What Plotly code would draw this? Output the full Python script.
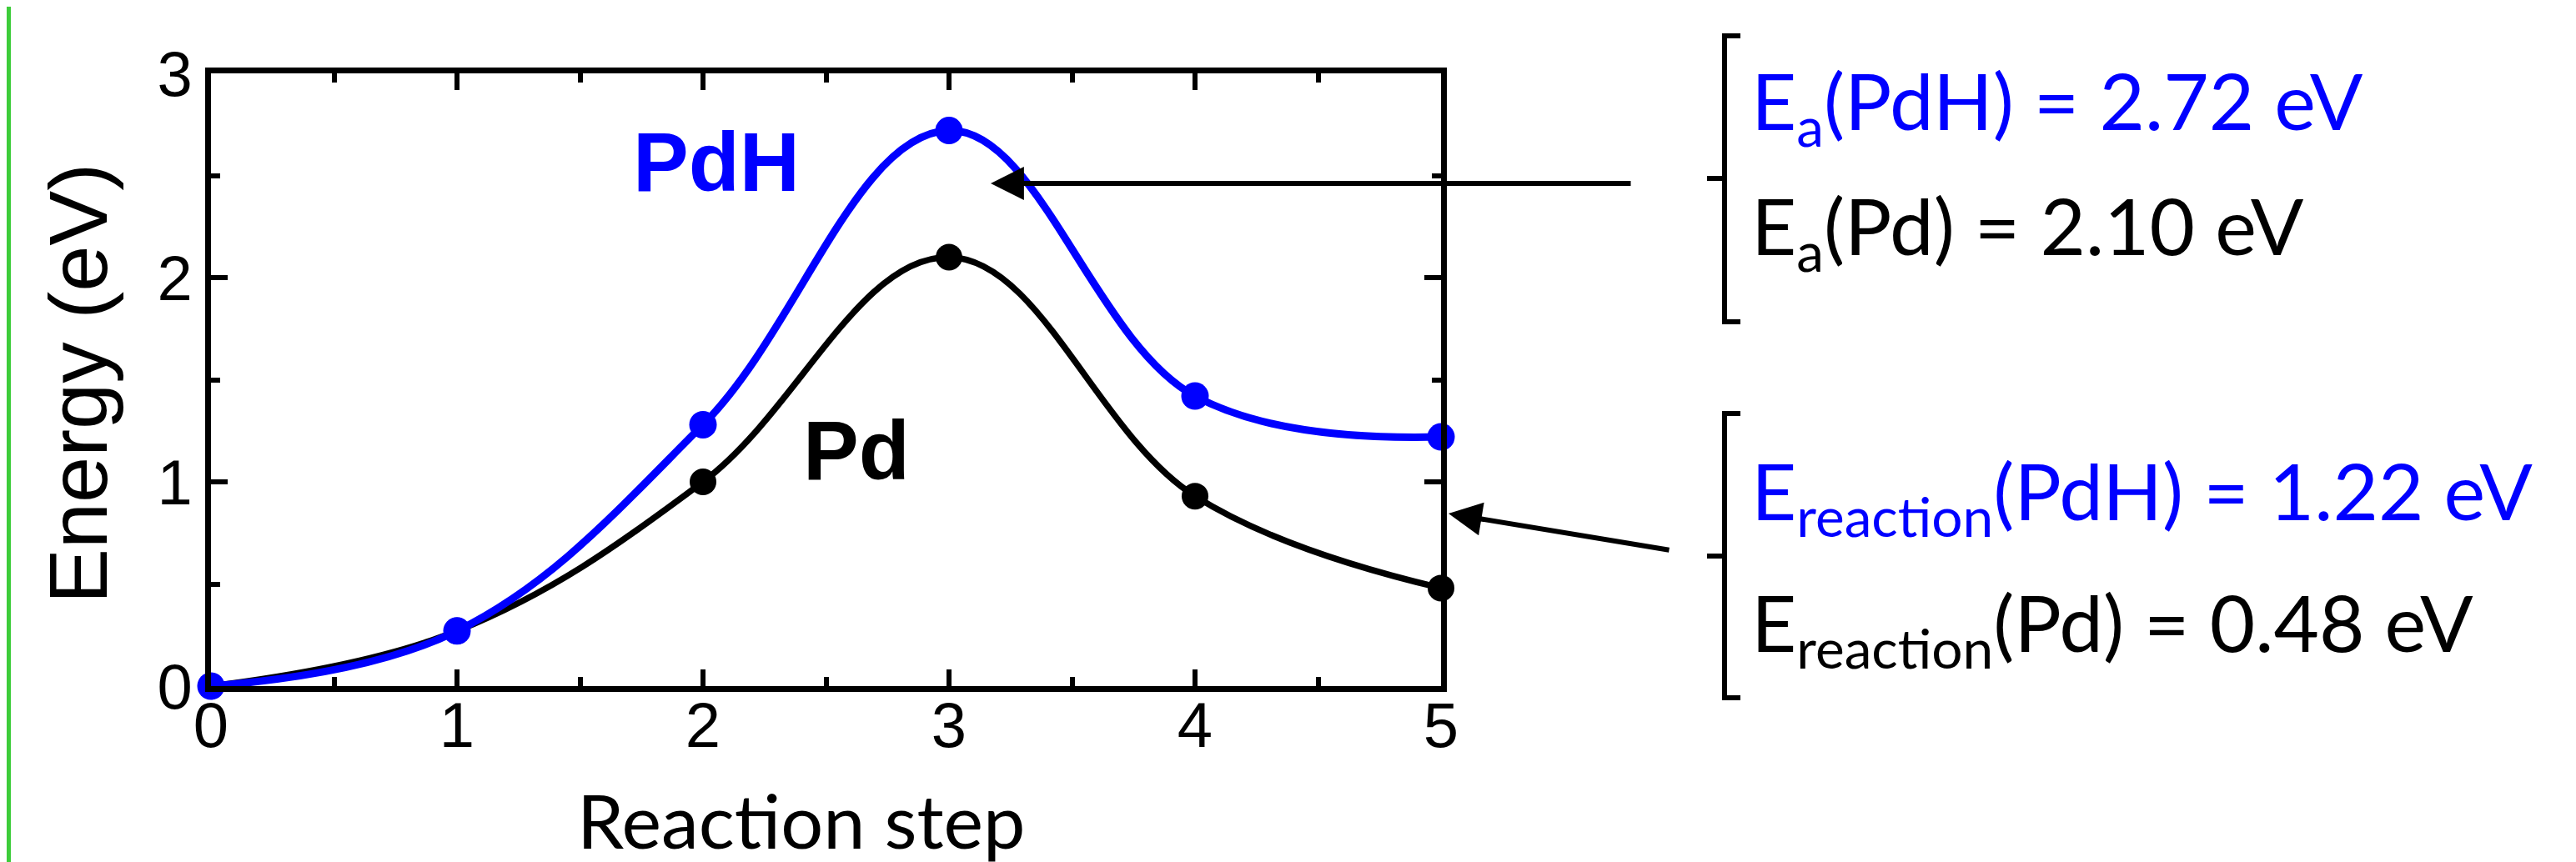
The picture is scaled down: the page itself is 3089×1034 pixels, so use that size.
import plotly.graph_objects as go

# ---- data ----
steps = [0, 1, 2, 3, 4, 5]
energy_pdh = [0.0, 0.27, 1.28, 2.72, 1.42, 1.22]
energy_pd = [0.0, 0.27, 1.00, 2.10, 0.93, 0.48]
x_ticks = [0, 1, 2, 3, 4, 5]
y_ticks = [0, 1, 2, 3]

label_lines = [
    ("E<sub>a</sub>(PdH) = 2.72 eV", "#0000FF"),
    ("E<sub>a</sub>(Pd) = 2.10 eV", "#000000"),
    ("E<sub>reaction</sub>(PdH) = 1.22 eV", "#0000FF"),
    ("E<sub>reaction</sub>(Pd) = 0.48 eV", "#000000"),
]

W, H = 3089, 1034
L, R, T, B = 245, 1720, 80, 815


def px(xp):
    return (xp - L) / (R - L)


def py(yp):
    return (B - yp) / (B - T)


BLUE = "#0000FF"
BLACK = "#000000"

fig = go.Figure()
fig.add_trace(go.Scatter(
    x=steps, y=energy_pd, mode="lines+markers",
    line=dict(color=BLACK, width=7.5, shape="spline", smoothing=1.1),
    marker=dict(color=BLACK, size=32), cliponaxis=False, name="Pd"))
fig.add_trace(go.Scatter(
    x=steps, y=energy_pdh, mode="lines+markers",
    line=dict(color=BLUE, width=9, shape="spline", smoothing=1.1),
    marker=dict(color=BLUE, size=33), cliponaxis=False, name="PdH"))

axis_common = dict(
    showline=True, linecolor=BLACK, linewidth=7, mirror="allticks",
    ticks="inside", ticklen=20, tickwidth=6, tickcolor=BLACK,
    minor=dict(dtick=0.5, ticks="inside", ticklen=11, tickwidth=6, tickcolor=BLACK),
    showgrid=False, zeroline=False,
    tickfont=dict(family="Liberation Sans, Arial", size=76, color=BLACK),
)

fig.update_xaxes(range=[0, 5], tickvals=x_ticks, ticktext=[str(v) for v in x_ticks],
                 ticklabelstandoff=-25, **axis_common)
fig.update_yaxes(range=[0, 3], tickvals=y_ticks, ticktext=[str(v) for v in y_ticks], **axis_common)

annotations = []
# axis titles
annotations.append(dict(text="Energy (eV)", x=px(85), y=py(452), xref="paper", yref="paper",
                        textangle=-90, showarrow=False, xanchor="center", yanchor="middle",
                        font=dict(family="Liberation Sans, Arial", size=99, color=BLACK)))
annotations.append(dict(text="Reaction step", x=px(952), y=py(975), xref="paper", yref="paper",
                        showarrow=False, xanchor="center", yanchor="middle",
                        font=dict(family="Lato", size=90, color=BLACK)))
# curve labels
annotations.append(dict(text="<b>PdH</b>", x=px(749), y=py(186), xref="paper", yref="paper",
                        showarrow=False, xanchor="left", yanchor="middle",
                        font=dict(family="Liberation Sans, Arial", size=100, color=BLUE)))
annotations.append(dict(text="<b>Pd</b>", x=px(953), y=py(532), xref="paper", yref="paper",
                        showarrow=False, xanchor="left", yanchor="middle",
                        font=dict(family="Liberation Sans, Arial", size=100, color=BLACK)))
# right-side energy texts
centers = [118, 268, 586, 744]
for (txt, col), cy in zip(label_lines, centers):
    annotations.append(dict(text=txt, x=px(2090), y=py(cy), xref="paper", yref="paper",
                            showarrow=False, xanchor="left", yanchor="middle",
                            font=dict(family="Lato", size=94, color=col)))
# arrows
for (tipx, tipy, tailx, taily) in [(1180, 212, 1949, 212), (1729, 608, 1995, 652)]:
    annotations.append(dict(text="", x=px(tipx), y=py(tipy), xref="paper", yref="paper",
                            ax=tailx - tipx, ay=taily - tipy, axref="pixel", ayref="pixel",
                            showarrow=True, arrowhead=2, arrowwidth=6, arrowsize=1.33,
                            arrowcolor=BLACK, standoff=0))

shapes = []
# brackets
for (top, mid, bot) in [(35, 206, 378), (488, 659, 829)]:
    xv, xs, xm = 2060, 2079, 2039
    path = (f"M {px(xs)},{py(top)} L {px(xv)},{py(top)} L {px(xv)},{py(bot)} L {px(xs)},{py(bot)} "
            f"M {px(xv)},{py(mid)} L {px(xm)},{py(mid)}")
    shapes.append(dict(type="path", path=path, xref="paper", yref="paper",
                       line=dict(color=BLACK, width=6)))
# green edge line
shapes.append(dict(type="line", x0=px(2.5), x1=px(2.5), y0=py(0), y1=py(H), xref="paper", yref="paper",
                   line=dict(color="#3DCC3A", width=5)))

fig.update_layout(
    width=W, height=H,
    margin=dict(l=L, r=W - R, t=T, b=H - B),
    paper_bgcolor="white", plot_bgcolor="white",
    showlegend=False,
    annotations=annotations, shapes=shapes,
)

fig.write_html("out.html", config={"displayModeBar": False})
